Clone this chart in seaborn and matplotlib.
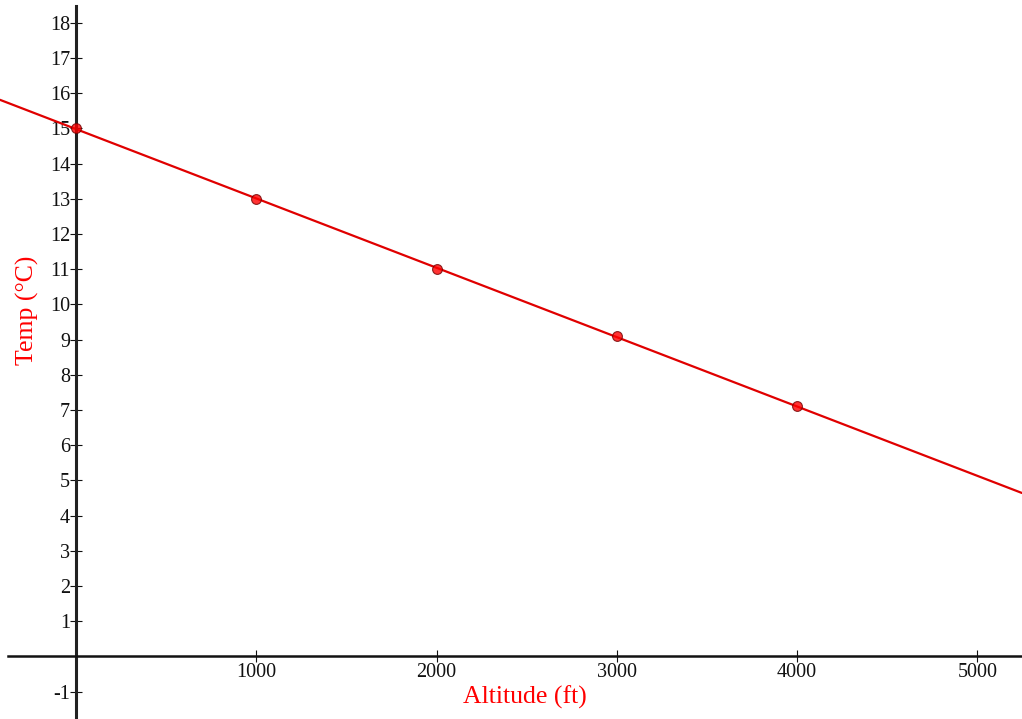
import matplotlib
matplotlib.use("Agg")
import matplotlib.pyplot as plt
import seaborn as sns
import pandas as pd

altitude = [0, 1000, 2000, 3000, 4000]
temp = [15, 13, 11, 9.1, 7.1]
x_ticks = [1000, 2000, 3000, 4000, 5000]
y_ticks = [-1, 1, 2, 3, 4, 5, 6, 7, 8, 9, 10, 11, 12, 13, 14, 15, 16, 17, 18]

sns.set_style("white")
plt.rcParams['font.family'] = ['Liberation Serif', 'DejaVu Serif']

df = pd.DataFrame({"Altitude": altitude, "Temp": temp})

fig = plt.figure(figsize=(10.22, 7.19), dpi=100)
ax = fig.add_axes([0, 0, 1, 1])
ax.set_xlim(-423, 5248)
ax.set_ylim(-1.78, 18.65)

sns.regplot(data=df, x="Altitude", y="Temp", ax=ax, ci=None, truncate=False,
            scatter_kws=dict(s=50, color="#ff0000", edgecolor="#700000", linewidths=0.8, zorder=5),
            line_kws=dict(color="#e00000", lw=1.6))
ax.set_xlim(-423, 5248)
ax.set_ylim(-1.78, 18.65)

for s in ["top", "right"]:
    ax.spines[s].set_visible(False)
ax.spines["left"].set_position(("data", 0))
ax.spines["bottom"].set_position(("data", 0))
ax.spines["left"].set_bounds(-1.78, 18.47)
ax.spines["bottom"].set_bounds(-380, 5248)
ax.spines["left"].set_linewidth(2.2)
ax.spines["bottom"].set_linewidth(1.8)
ax.spines["left"].set_color("#222222")
ax.spines["bottom"].set_color("#111111")

ax.set_xticks(x_ticks)
ax.set_xticklabels([str(v) for v in x_ticks])
ax.set_yticks(y_ticks)
ax.set_yticklabels([str(v) for v in y_ticks])
ax.tick_params(axis="x", direction="inout", length=9, width=0.8, labelsize=14.5, pad=0, colors="#111111")
ax.tick_params(axis="y", direction="inout", length=9, width=0.8, labelsize=14.5, pad=0, colors="#111111")
ax.tick_params(axis="y", left=True)
ax.tick_params(axis="x", bottom=True)

ax.set_xlabel("")
ax.set_ylabel("")
ax.text(2490, -1.15, "Altitude (ft)", color="#ff0000", fontsize=18.5, ha="center", va="center")
ax.text(-268, 9.84, "Temp (°C)", color="#ff0000", fontsize=18.5, ha="center", va="center", rotation=90)

fig.savefig("out.png", dpi=100)
